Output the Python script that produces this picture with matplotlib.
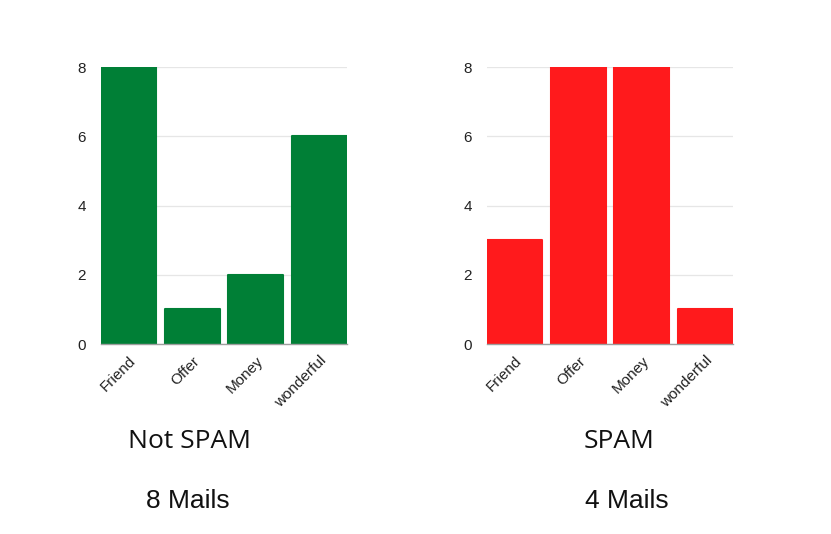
import matplotlib
matplotlib.use("Agg")
import matplotlib.pyplot as plt

categories = ["Friend", "Offer", "Money", "wonderful"]
not_spam_values = [8, 1, 2, 6]
spam_values = [3, 8, 8, 1]
y_ticks = [0, 2, 4, 6, 8]
titles = ["Not SPAM", "SPAM"]
counts = ["8 Mails", "4 Mails"]

plt.rcParams['font.family'] = ['Liberation Sans', 'DejaVu Sans']

fig = plt.figure(figsize=(8.31, 5.34), dpi=100)
fig.patch.set_facecolor("white")

axes_specs = [
    (0.1215, not_spam_values, "#007F36"),
    (0.5860, spam_values, "#FF1A1C"),
]
bw = 0.87

for left, vals, color in axes_specs:
    ax = fig.add_axes([left, 0.3558, 0.296, 0.5187])
    x = list(range(len(categories)))
    ax.bar(x, vals, width=bw, color=color, edgecolor=color, linewidth=1.5,
           joinstyle="round", zorder=3)
    ax.set_xlim(-bw / 2, len(categories) - 1 + bw / 2)
    ax.set_ylim(0, 8)
    ax.set_yticks(y_ticks)
    ax.set_xticks(x)
    ax.set_xticklabels(categories, rotation=45, ha="right", rotation_mode="anchor",
                       fontsize=10.5, color="#222222")
    ax.tick_params(axis="both", length=0, labelsize=11, colors="#222222")
    ax.tick_params(axis="y", pad=11)
    ax.tick_params(axis="x", pad=7)
    ax.grid(axis="y", color="#E6E6E6", linewidth=0.9, zorder=0)
    for s in ["top", "right", "left"]:
        ax.spines[s].set_visible(False)
    ax.spines["bottom"].set_color("#9E9E9E")
    ax.spines["bottom"].set_linewidth(1.0)
    ax.spines["bottom"].set_zorder(4)

fig.text(190 / 831, 1 - 441 / 534, titles[0], fontsize=19, family="Open Sans",
         ha="center", va="center", color="#111111")
fig.text(619 / 831, 1 - 441 / 534, titles[1], fontsize=19, family="Open Sans",
         ha="center", va="center", color="#111111")
fig.text(188 / 831, 1 - 501 / 534, counts[0], fontsize=19,
         ha="center", va="center", color="#111111")
fig.text(627 / 831, 1 - 501 / 534, counts[1], fontsize=19,
         ha="center", va="center", color="#111111")

fig.savefig("out.png", dpi=100, facecolor="white")
